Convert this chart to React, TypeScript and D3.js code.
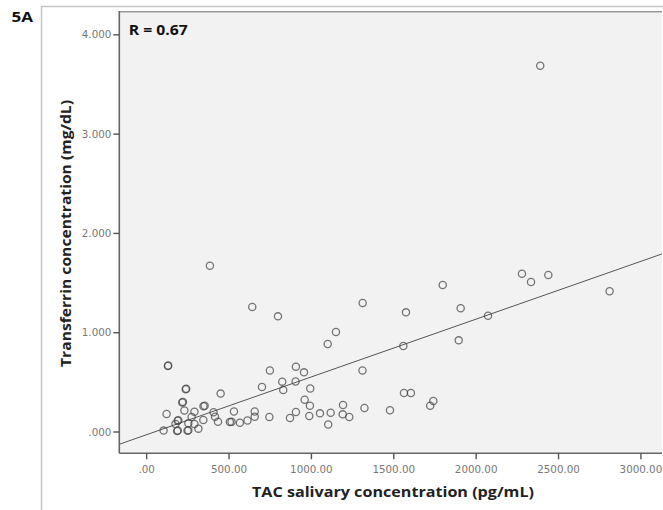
import React from "react";
import * as d3 from "d3";

const tac: number[] = [
  129, 131, 384, 641, 797, 1311, 1574, 1149, 1099, 1558, 1797, 1906, 2072, 1894, 2278, 2333, 2438, 2810, 2389,
  1740, 1721, 1562, 1604, 1477, 1322, 1230, 1190, 1192, 1117, 1052, 1102, 987, 991, 959, 993, 906, 870, 829, 823,
  904, 906, 955, 1310, 748, 700, 745, 656, 656, 612, 566, 505, 515, 530, 449, 433, 415, 406, 345, 352, 344, 314,
  290, 273, 290, 248, 253, 237, 240, 229, 216, 220, 188, 192, 185, 189, 175, 121, 103, 253,
];
const transferrin: number[] = [
  0.665, 0.67, 1.675, 1.259, 1.165, 1.299, 1.205, 1.007, 0.886, 0.866, 1.48, 1.246, 1.171, 0.923, 1.594, 1.511, 1.581, 1.417, 3.689,
  0.312, 0.265, 0.393, 0.393, 0.219, 0.242, 0.151, 0.178, 0.272, 0.194, 0.188, 0.076, 0.161, 0.265, 0.325, 0.438, 0.201, 0.141, 0.423, 0.507,
  0.509, 0.658, 0.601, 0.619, 0.619, 0.453, 0.151, 0.206, 0.154, 0.116, 0.093, 0.1, 0.102, 0.206, 0.387, 0.104, 0.154, 0.199, 0.26, 0.265, 0.121, 0.034,
  0.205, 0.151, 0.081, 0.012, 0.018, 0.43, 0.435, 0.217, 0.298, 0.303, 0.113, 0.118, 0.01, 0.015, 0.081, 0.181, 0.014, 0.088,
];

const xTicks: number[] = [0, 500, 1000, 1500, 2000, 2500, 3000];
const xTickLabels: string[] = [".00", "500.00", "1000.00", "1500.00", "2000.00", "2500.00", "3000.00"];
const yTicks: number[] = [0, 1, 2, 3, 4];
const yTickLabels: string[] = [".000", "1.000", "2.000", "3.000", "4.000"];

const fitIntercept = -0.027;
const fitSlope = 0.000582;

const xDomain: [number, number] = [-166, 3128];
const yDomain: [number, number] = [-0.2145, 4.24];

export default function App() {
  const W = 663;
  const H = 510;
  const left = 119.3;
  const right = 662;
  const top = 11;
  const bottom = 453.3;

  const x = d3.scaleLinear().domain(xDomain).range([left, right]);
  const y = d3.scaleLinear().domain(yDomain).range([bottom, top]);

  const line = d3
    .line<number>()
    .x((d) => x(d))
    .y((d) => y(fitIntercept + fitSlope * d));

  const tickFont = "'DejaVu Sans', sans-serif";
  const titleFont = "'Open Sans', sans-serif";

  return (
    <svg
      width={W}
      height={H}
      style={{ position: "absolute", left: 0, top: 0, background: "#fff" }}
    >
      <defs>
        <clipPath id="plotClip">
          <rect x={left} y={top} width={right - left} height={bottom - top} />
        </clipPath>
      </defs>
      <rect x={41.5} y={6.5} width={700} height={600} fill="none" stroke="#c4c4c4" strokeWidth={1.5} />
      <text
        x={11.5}
        y={22}
        fontFamily={titleFont}
        fontWeight={700}
        fontSize={14.5}
        fill="#111"
        textLength={21.5}
        lengthAdjust="spacingAndGlyphs"
      >
        5A
      </text>
      <rect x={left} y={top} width={right - left} height={bottom - top} fill="#f2f2f2" />
      <line x1={left} x2={right} y1={top + 0.8} y2={top + 0.8} stroke="#9a9a9a" strokeWidth={1.6} />
      <g clipPath="url(#plotClip)">
        <path d={line(xDomain) || ""} fill="none" stroke="#555" strokeWidth={1} />
        {tac.map((v, i) => (
          <circle
            key={i}
            cx={x(v)}
            cy={y(transferrin[i])}
            r={3.6}
            fill="none"
            stroke="#444"
            strokeOpacity={0.72}
            strokeWidth={1.3}
          />
        ))}
      </g>
      <line x1={left} x2={left} y1={top} y2={bottom} stroke="#666" strokeWidth={1.6} />
      <line x1={left} x2={right} y1={bottom} y2={bottom} stroke="#666" strokeWidth={1.6} />
      {yTicks.map((t, i) => (
        <g key={"y" + i}>
          <line x1={left - 6} x2={left} y1={y(t)} y2={y(t)} stroke="#555" strokeWidth={1.4} />
          <text
            x={left - 8}
            y={y(t)}
            dy="0.35em"
            textAnchor="end"
            fontFamily={tickFont}
            fontSize={10.3}
            fill="#777"
          >
            {yTickLabels[i]}
          </text>
        </g>
      ))}
      {xTicks.map((t, i) => (
        <g key={"x" + i}>
          <line x1={x(t)} x2={x(t)} y1={bottom} y2={bottom + 6} stroke="#555" strokeWidth={1.4} />
          <text
            x={x(t)}
            y={473}
            textAnchor="middle"
            fontFamily={tickFont}
            fontSize={10.3}
            fill="#777"
          >
            {xTickLabels[i]}
          </text>
        </g>
      ))}
      <text
        x={128.7}
        y={35}
        fontFamily={titleFont}
        fontWeight={700}
        fontSize={14.5}
        fill="#111"
        textLength={59}
        lengthAdjust="spacingAndGlyphs"
      >
        R = 0.67
      </text>
      <text
        x={252}
        y={497}
        fontFamily={titleFont}
        fontWeight={700}
        fontSize={14.5}
        fill="#222"
        textLength={282}
        lengthAdjust="spacingAndGlyphs"
      >
        TAC salivary concentration (pg/mL)
      </text>
      <text
        transform={`translate(71, 367) rotate(-90)`}
        fontFamily={titleFont}
        fontWeight={700}
        fontSize={14.5}
        fill="#222"
        textLength={267}
        lengthAdjust="spacingAndGlyphs"
      >
        Transferrin concentration (mg/dL)
      </text>
    </svg>
  );
}
